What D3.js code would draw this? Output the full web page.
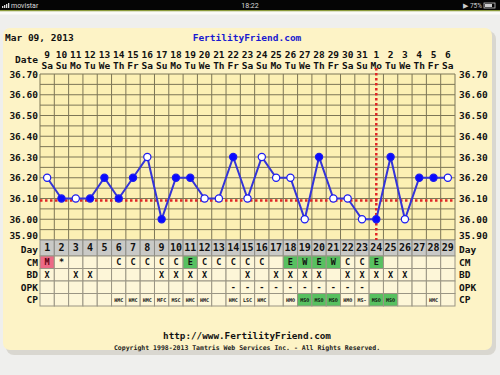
<!DOCTYPE html>
<html>
<head>
<meta charset="utf-8">
<script src="https://cdn.jsdelivr.net/npm/d3@7/dist/d3.min.js"></script>
<style>
  html, body { margin: 0; padding: 0; background: #efefed; }
  svg text { font-family: "DejaVu Sans Mono", "Liberation Mono", monospace; font-weight: bold; }
</style>
</head>
<body>
<svg id="chart" width="500" height="375"></svg>
<script>
// ---- data ----
var dateNums = [9,10,11,12,13,14,15,16,17,18,19,20,21,22,23,24,25,26,27,28,29,30,31,1,2,3,4,5,6];
var weekDays = ["Sa","Su","Mo","Tu","We","Th","Fr","Sa","Su","Mo","Tu","We","Th","Fr","Sa","Su","Mo","Tu","We","Th","Fr","Sa","Su","Mo","Tu","We","Th","Fr","Sa"];
var cycleDays = d3.range(1, 30);
var temps = [36.2,36.1,36.1,36.1,36.2,36.1,36.2,36.3,36.0,36.2,36.2,36.1,36.1,36.3,36.1,36.3,36.2,36.2,36.0,36.3,36.1,36.1,36.0,36.0,36.3,36.0,36.2,36.2,36.2];
// 1 = open circle, 0 = filled
var openPts = [1,0,1,0,0,0,0,1,0,0,0,1,1,0,1,1,1,1,1,0,1,1,1,0,0,1,0,0,1];
var yTicks = [36.7,36.6,36.5,36.4,36.3,36.2,36.1,36.0,35.9];
var coverLine = 36.09;
var ovulationDay = 24;
var cmRow  = ["M","*","","","","C","C","C","C","C","E","C","C","C","C","C","","E","W","E","W","C","C","E","","","","",""];
var bdRow  = ["X","","X","X","","","","","X","X","X","X","","","X","","X","X","X","X","","X","X","X","X","X","","",""];
var opkRow = ["","","","","","","","","","","","","","-","-","-","-","-","-","-","-","-","-","","","","","",""];
var cpRow  = ["","","","","","HMC","HMC","HMC","MFC","MSC","HMC","HMC","","HMC","LSC","HMC","","HMO","MSO","MSO","MSO","HMO","MS-","MSO","MSO","","","HMC",""];

var svg = d3.select("#chart");

// status bar
svg.append("rect").attr("x", 0).attr("y", 0).attr("width", 500).attr("height", 10).attr("fill", "#050505");
svg.append("rect").attr("x", 0).attr("y", 10).attr("width", 500).attr("height", 1.5).attr("fill", "#8a9a3a");
svg.append("rect").attr("x", 0).attr("y", 11.5).attr("width", 500).attr("height", 3).attr("fill", "#fbfbf8");
[0,1,2,3].forEach(function(i){
  svg.append("rect").attr("x", 2 + i*2).attr("y", 6 - i).attr("width", 1.3).attr("height", 2 + i).attr("fill", "#ddd");
});
svg.append("text").attr("x", 11).attr("y", 7.5).attr("fill", "#ddd").style("font-family", "Roboto, sans-serif").style("font-weight", "normal").style("font-size", "7px").text("movistar");
svg.append("text").attr("x", 250).attr("y", 7.5).attr("text-anchor", "middle").attr("fill", "#ddd").style("font-family", "Roboto, sans-serif").style("font-weight", "normal").style("font-size", "7px").text("18:22");
svg.append("text").attr("x", 482).attr("y", 7.5).attr("text-anchor", "end").attr("fill", "#ccc").style("font-family", "Roboto, sans-serif").style("font-weight", "normal").style("font-size", "6.5px").text("\u25B6 75%");
svg.append("rect").attr("x", 484).attr("y", 3).attr("width", 11).attr("height", 5).attr("fill", "none").attr("stroke", "#ccc").attr("stroke-width", 0.8);
svg.append("rect").attr("x", 485).attr("y", 4).attr("width", 7).attr("height", 3).attr("fill", "#ccc");

// panel with shadow
svg.append("rect").attr("x", 6).attr("y", 31).attr("width", 490).attr("height", 324).attr("rx", 8).attr("fill", "#c9c7bd").attr("opacity", 0.6);
svg.append("rect").attr("x", 3).attr("y", 28).attr("width", 489).attr("height", 322).attr("rx", 7).attr("fill", "#fdf3c6");

var x = d3.scaleBand().domain(cycleDays).range([40, 455]);
var y = d3.scaleLinear().domain([35.9, 36.7]).range([240, 74]);
var bw = x.bandwidth();

// header
svg.append("text").attr("x", 5).attr("y", 41).attr("fill", "#111").style("font-size", "9.5px").text("Mar 09, 2013");
svg.append("text").attr("x", 247).attr("y", 41).attr("text-anchor", "middle").attr("fill", "#1a1ad0").style("font-size", "9.5px").text("FertilityFriend.com");

svg.append("text").attr("x", 38).attr("y", 63).attr("text-anchor", "end").attr("fill", "#111").style("font-size", "9.5px").text("Date");
svg.selectAll("text.dnum").data(dateNums).enter().append("text")
  .attr("class", "dnum")
  .attr("x", function(d, i){ return x(cycleDays[i]) + bw/2; })
  .attr("y", 58).attr("text-anchor", "middle").attr("fill", "#111").style("font-size", "9.5px")
  .text(function(d){ return d; });
svg.selectAll("text.wday").data(weekDays).enter().append("text")
  .attr("class", "wday")
  .attr("x", function(d, i){ return x(cycleDays[i]) + bw/2; })
  .attr("y", 69).attr("text-anchor", "middle").attr("fill", "#111").style("font-size", "9.5px")
  .text(function(d){ return d; });

// grid
svg.append("rect").attr("x", 40).attr("y", 74).attr("width", 415).attr("height", 166).attr("fill", "#fcf0b4");
var g = svg.append("g").attr("stroke", "#7d7656").attr("stroke-width", 1);
d3.range(35.9, 36.7001, 0.05).forEach(function(v){
  g.append("line").attr("x1", 40).attr("x2", 455).attr("y1", y(v)).attr("y2", y(v));
});
cycleDays.concat([30]).forEach(function(d){
  var xx = d === 30 ? 455 : x(d);
  g.append("line").attr("x1", xx).attr("x2", xx).attr("y1", 74).attr("y2", 240);
});

// y axis labels left & right (bottom label nudged up to clear the Day row)
yTicks.forEach(function(v){
  var yy = v === 35.9 ? y(v) - 1.5 : y(v) + 3.5;
  svg.append("text").attr("x", 38).attr("y", yy).attr("text-anchor", "end").attr("fill", "#111").style("font-size", "9.5px").text(v.toFixed(2));
  svg.append("text").attr("x", 459).attr("y", yy).attr("fill", "#111").style("font-size", "9.5px").text(v.toFixed(2));
});

// table
var rowTop = 240;
var rows = [
  {name: "Day", h: 16, vals: cycleDays.map(String)},
  {name: "CM", h: 12.5, vals: cmRow},
  {name: "BD", h: 12.5, vals: bdRow},
  {name: "OPK", h: 12.5, vals: opkRow},
  {name: "CP", h: 12.5, vals: cpRow}
];
var t = svg.append("g");
rows.forEach(function(r, ri){
  var y0 = rowTop;
  r.vals.forEach(function(v, i){
    var fill = ri === 0 ? "#c9c9c6" : "#fdf6d8";
    if (ri === 1 && v === "M") fill = "#ec6a86";
    if (ri === 1 && (v === "E" || v === "W")) fill = "#58c060";
    if (ri === 4 && v === "MSO") fill = "#58c060";
    t.append("rect").attr("x", x(cycleDays[i])).attr("y", y0).attr("width", bw).attr("height", r.h)
      .attr("fill", fill).attr("stroke", ri === 0 ? "#8d8d88" : "#9a9584").attr("stroke-width", 1);
    if (v !== "") {
      var fs = ri === 0 ? "10px" : (ri === 4 ? "5px" : "8.5px");
      t.append("text").attr("x", x(cycleDays[i]) + bw/2).attr("y", y0 + r.h/2 + (ri === 4 ? 2 : 3.2))
        .attr("text-anchor", "middle").attr("fill", ri === 1 && v === "M" ? "#600010" : "#111").style("font-size", fs).text(v);
    }
  });
  var yl = ri === 0 ? y0 + r.h/2 + 5 : y0 + r.h/2 + 3.5;
  svg.append("text").attr("x", 38).attr("y", yl).attr("text-anchor", "end").attr("fill", "#111").style("font-size", "9.5px").text(r.name);
  svg.append("text").attr("x", 459).attr("y", yl).attr("fill", "#111").style("font-size", "9.5px").text(r.name);
  rowTop += r.h;
});

// cover line and ovulation line
svg.append("line").attr("x1", 40).attr("x2", 455).attr("y1", y(coverLine)).attr("y2", y(coverLine))
  .attr("stroke", "#e02525").attr("stroke-width", 2.5).attr("stroke-dasharray", "2.5,2.5");
svg.append("line").attr("x1", x(ovulationDay) + bw/2).attr("x2", x(ovulationDay) + bw/2).attr("y1", 68).attr("y2", 240)
  .attr("stroke", "#e02525").attr("stroke-width", 2.5).attr("stroke-dasharray", "2.5,2.5");

// temperature line
var line = d3.line().x(function(d, i){ return x(cycleDays[i]) + bw/2; }).y(function(d){ return y(d); });
svg.append("path").datum(temps).attr("d", line).attr("fill", "none").attr("stroke", "#3434d8").attr("stroke-width", 2);
svg.selectAll("circle.pt").data(temps).enter().append("circle")
  .attr("class", "pt")
  .attr("cx", function(d, i){ return x(cycleDays[i]) + bw/2; })
  .attr("cy", function(d){ return y(d); })
  .attr("r", 3.6)
  .attr("fill", function(d, i){ return openPts[i] ? "#ffffff" : "#0a0aff"; })
  .attr("stroke", "#1c1cf0").attr("stroke-width", 1.2);

// footer
svg.append("text").attr("x", 247).attr("y", 339).attr("text-anchor", "middle").attr("fill", "#111").style("font-size", "9.3px").text("http://www.FertilityFriend.com");
svg.append("text").attr("x", 247).attr("y", 350).attr("text-anchor", "middle").attr("fill", "#222").style("font-size", "6.5px").text("Copyright 1998-2013 Tamtris Web Services Inc. - All Rights Reserved.");
</script>
</body>
</html>
